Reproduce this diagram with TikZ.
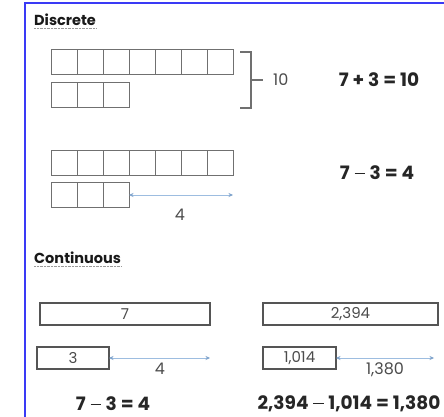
\documentclass[tikz,border=0pt]{standalone}
\usepackage{fontspec}
\setmainfont{Poppins}
\usetikzlibrary{arrows.meta}
\definecolor{frameblue}{HTML}{3A3AF5}
\definecolor{cellgray}{HTML}{707070}
\definecolor{bargray}{HTML}{555555}
\definecolor{arrowblue}{HTML}{9DBDE0}
\definecolor{tipblue}{HTML}{7FA3CC}
\newcommand{\mminus}{\hspace{0.05em}\rule[0.3em]{0.55em}{0.075em}\hspace{0.05em}}
\tikzset{
  cell/.style={draw=cellgray, line width=1pt, minimum width=26pt, minimum height=25pt, inner sep=0pt, outer sep=0pt},
  bar/.style={draw=bargray, line width=1.2pt, minimum height=22pt, inner sep=0pt, outer sep=0pt, font=\fontsize{15}{15}\selectfont, text=black!70},
  heading/.style={font=\bfseries\fontsize{14.5}{14.5}\selectfont, inner sep=0pt, anchor=west, text=black!90},
  eqn/.style={font=\bfseries\fontsize{18.5}{18.5}\selectfont, inner sep=0pt, text=black!85},
  lbl/.style={font=\fontsize{16}{16}\selectfont, inner sep=0pt, text=black!70},
  gap/.style={draw=arrowblue, line width=0.6pt, {Stealth[length=4.5pt,width=4pt,color=tipblue]}-{Stealth[length=4.5pt,width=4pt,color=tipblue]}},
  uline/.style={draw=black!40, line width=0.5pt, dash pattern=on 1pt off 0.4pt}
}
\begin{document}
\begin{tikzpicture}[x=1pt,y=-1pt]
\useasboundingbox (0,0) rectangle (444,417);
\fill[white] (0,0) rectangle (444,417);
\draw[frameblue, line width=2pt] (25,417) -- (25,3) -- (444,3);

% Discrete heading
\node[heading] (hd) at (34,20) {Discrete};
\draw[uline] ([yshift=-2.5pt]hd.south west) -- ([yshift=-2.5pt]hd.south east);

% Discrete block 1
\foreach \i in {1,...,7} {
  \node[cell] (a\i) at ({51+13+26*(\i-1)},62.5) {};
}
\foreach \i in {1,...,3} {
  \node[cell] (b\i) at ({51+13+26*(\i-1)},95) {};
}
\coordinate (brT) at (240,52);
\coordinate (brB) at (240,108);
\draw[cellgray, line width=1.1pt] (brT) -- (251,52) -- (251,108) -- (brB);
\draw[cellgray, line width=1.1pt] (251,80) -- (263,80);
\node[lbl, anchor=west] (ten) at (273,80) {10};
\node[eqn] (eq1) at (379,80) {7 + 3 = 10};

% Discrete block 2
\foreach \i in {1,...,7} {
  \node[cell] (c\i) at ({51+13+26*(\i-1)},162.5) {};
}
\foreach \i in {1,...,3} {
  \node[cell] (d\i) at ({51+13+26*(\i-1)},195) {};
}
\coordinate (dEnd) at (233,195);
\draw[gap] (d3.east) -- (dEnd);
\node[lbl] (four1) at (180,215) {4};
\node[eqn] (eq2) at (377,173) {7 \mminus{} 3 = 4};

% Continuous heading
\node[heading] (hc) at (34,258) {Continuous};
\draw[uline] ([yshift=-2.5pt]hc.south west) -- ([yshift=-2.5pt]hc.south east);

% Continuous left
\node[bar, minimum width=170pt] (s7) at (125,314) {7};
\node[bar, minimum width=72pt] (s3) at (73,358) {3};
\coordinate (s3End) at (210,358);
\draw[gap] (s3.east) -- (s3End);
\node[lbl] (four2) at (160,369) {4};
\node[eqn] (eq3) at (113,404) {7 \mminus{} 3 = 4};

% Continuous right
\node[bar, minimum width=175pt] (l1) at (350.5,314) {2,394};
\node[bar, minimum width=73pt] (l2) at (299.5,358) {1,014};
\coordinate (l2End) at (434,358);
\draw[gap] (l2.east) -- (l2End);
\node[lbl] (l3) at (385,370) {1,380};
\node[eqn] (eq4) at (349,404) {2,394 \mminus{} 1,014 = 1,380};
\end{tikzpicture}
\end{document}
